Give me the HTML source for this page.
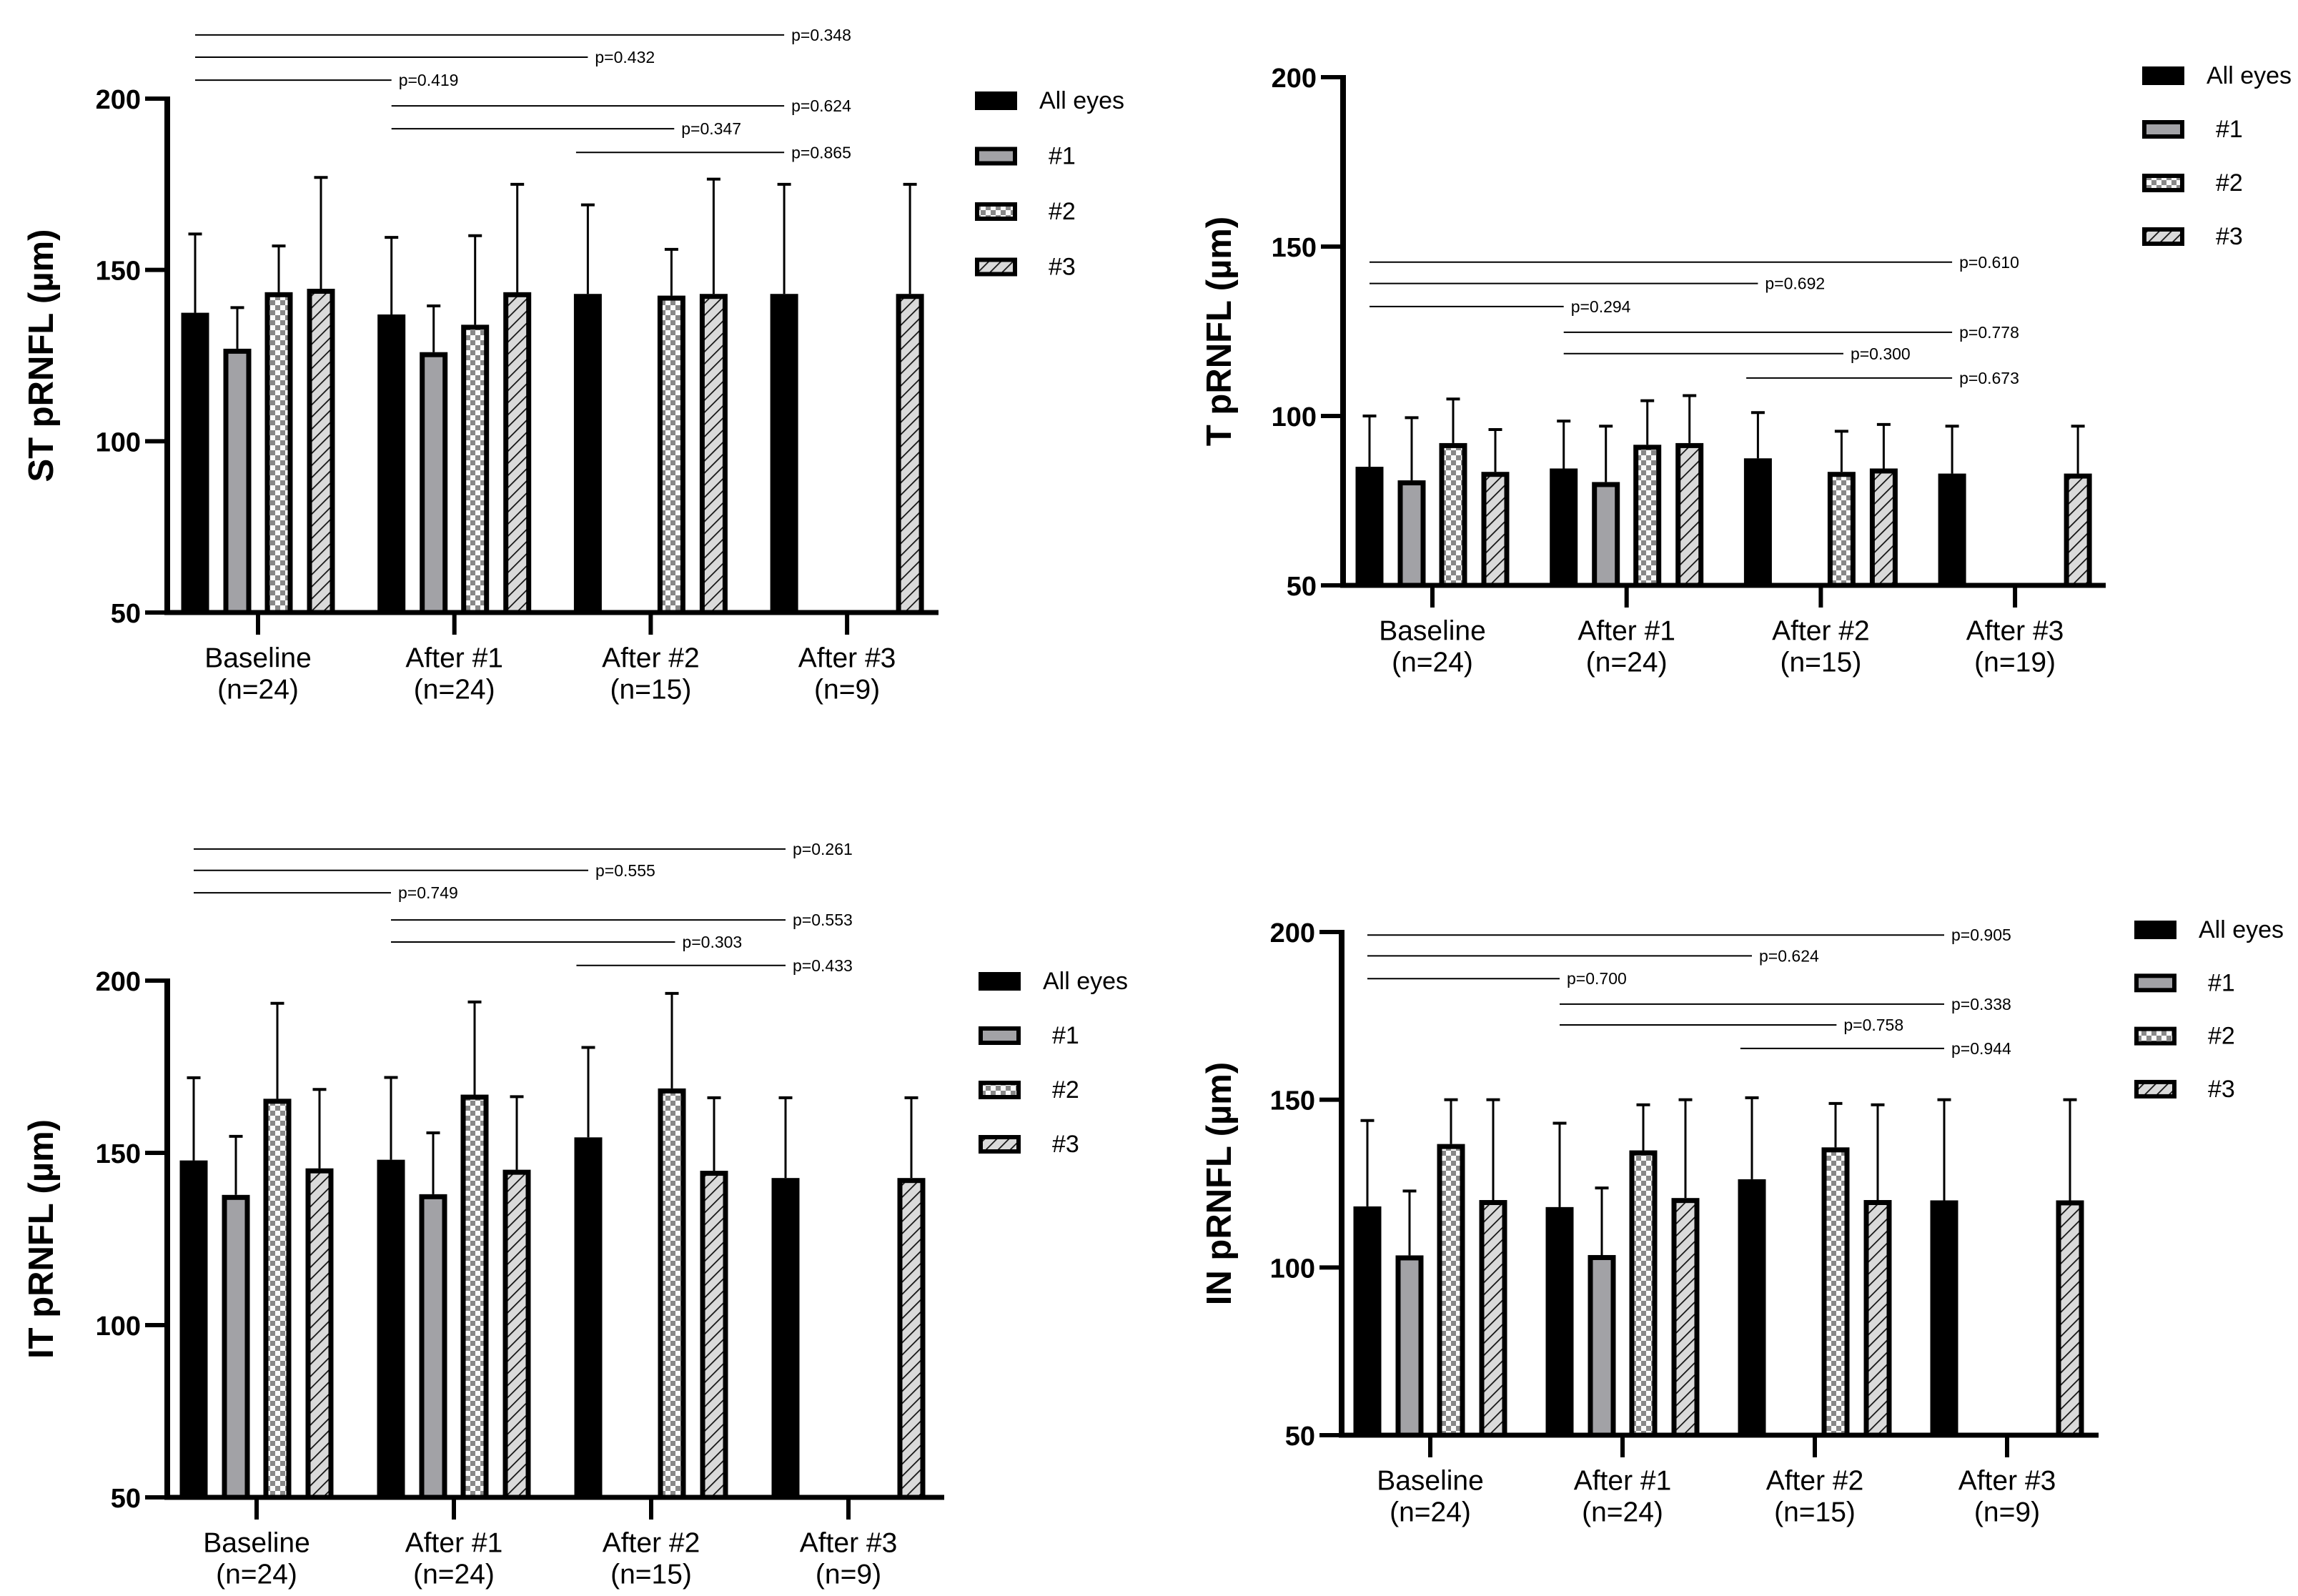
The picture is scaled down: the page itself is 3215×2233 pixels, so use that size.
<!DOCTYPE html>
<html><head><meta charset="utf-8"><style>
html,body{margin:0;padding:0;background:#fff;}
svg{display:block;font-family:"Liberation Sans",Arial,sans-serif;}
</style></head><body>
<svg id="chart" width="3215" height="2233" viewBox="0 0 3215 2233" xmlns="http://www.w3.org/2000/svg">
<defs>
<pattern id="checker" width="14" height="14" patternUnits="userSpaceOnUse">
<rect width="14" height="14" fill="#fafafa"/><rect width="7" height="7" fill="#888"/><rect x="7" y="7" width="7" height="7" fill="#888"/>
</pattern>
<pattern id="hatch" width="12" height="12" patternUnits="userSpaceOnUse" patternTransform="rotate(45)">
<rect width="12" height="12" fill="#dadada"/><line x1="0" y1="0" x2="0" y2="12" stroke="#111" stroke-width="3.5"/>
</pattern>
</defs>
<rect width="3215" height="2233" fill="#fff"/>
</svg>
<script>
const categories = ["Baseline","After #1","After #2","After #3"];
const seriesNames = ["All eyes","#1","#2","#3"];
const yTicks = [50,100,150,200];
// Means per group [All, #1, #2, #3]; null = no bar
const stMeans = [[137.5,127,143.5,144.5],[137,126,134,143.5],[143,null,142.5,143],[143,null,null,143]];
const stErrTop = [[160.5,139,157,177],[159.5,139.5,160,175],[169,null,156,176.5],[175,null,null,175]];
const stN = ["(n=24)","(n=24)","(n=15)","(n=9)"];
const stP = ["p=0.348","p=0.432","p=0.419","p=0.624","p=0.347","p=0.865"];
const stPY = [218.6,212.1,205.4,197.9,191.2,184.3];

const tMeans = [[85,81,92,83.5],[84.5,80.5,91.5,92],[87.5,null,83.5,84.5],[83,null,null,83]];
const tErrTop = [[100,99.5,105,96],[98.5,97,104.5,106],[101,null,95.5,97.5],[97,null,null,97]];
const tN = ["(n=24)","(n=24)","(n=15)","(n=19)"];
const tP = ["p=0.610","p=0.692","p=0.294","p=0.778","p=0.300","p=0.673"];
const tPY = [145.4,139.1,132.3,124.7,118.4,111.2];

const itMeans = [[147.8,137.8,165.7,145.5],[148,138,166.9,145.1],[154.5,null,168.7,144.8],[142.7,null,null,142.7]];
const itErrTop = [[171.8,154.8,193.4,168.4],[171.9,155.8,193.8,166.3],[180.6,null,196.3,166],[166,null,null,166]];
const itN = ["(n=24)","(n=24)","(n=15)","(n=9)"];
const itP = ["p=0.261","p=0.555","p=0.749","p=0.553","p=0.303","p=0.433"];
const itPY = [238.2,232,225.5,217.6,211.2,204.4];

const inMeans = [[118.2,103.6,136.8,120.1],[118,103.7,134.9,120.7],[126.3,null,135.8,120.1],[120,null,null,120]];
const inErrTop = [[143.8,122.8,150,150],[143,123.7,148.5,150],[150.6,null,148.9,148.5],[150,null,null,150]];
const inN = ["(n=24)","(n=24)","(n=15)","(n=9)"];
const inP = ["p=0.905","p=0.624","p=0.700","p=0.338","p=0.758","p=0.944"];
const inPY = [199.1,192.9,186.1,178.5,172.3,165.3];

// comparison spans in group units (0 = first "All eyes" bar)
const pSpans = [[0,3],[0,2],[0,1],[1,3],[1,2.44],[1.94,3]];

const NS = "http://www.w3.org/2000/svg";
const svg = document.getElementById("chart");
function mk(tag, attrs, parent){
  const e = document.createElementNS(NS, tag);
  for (const k in attrs) e.setAttribute(k, attrs[k]);
  (parent||svg).appendChild(e);
  return e;
}
const fills = ["#000","#a2a2a6","url(#checker)","url(#hatch)"];
const offs = [-88,-29,29,88];

function panel(id, title, L, means, errs, nLabels, pLabels, pY){
  const g = mk("g", {});
  
  
  const y = v => L.yBot - (v-50)*(L.yBot-L.yTop)/150;
  const xg = i => L.tick0 + i*L.step;
  const yt = mk("text", {x:L.labX, y:(L.yTop+L.yBot)/2, "font-size":49, "font-weight":"bold", "text-anchor":"middle", transform:`rotate(-90 ${L.labX} ${(L.yTop+L.yBot)/2})`, "dominant-baseline":"central"}, g);
  yt.textContent = title;
  
  
  means.forEach((row, gi) => {
    row.forEach((v, si) => {
      if (v === null) return;
      const cx = xg(gi) + offs[si];
      const top = y(v), bot = L.yBot;
      const e = errs[gi][si];
      const el = mk("line", {x1:cx, x2:cx, y1:y(e), y2:top, stroke:"#000", "stroke-width":3}, g);
      
      
      const cap = mk("line", {x1:cx-9.5, x2:cx+9.5, y1:y(e), y2:y(e), stroke:"#000", "stroke-width":4}, g);
      
      
      const r = si === 0
        ? mk("rect", {x:cx-19.5, y:top, width:39, height:bot-top, fill:"#000"}, g)
        : mk("rect", {x:cx-16, y:top+3.5, width:32, height:bot-top-3.5, fill:fills[si], stroke:"#000", "stroke-width":7}, g);
      
      
    });
  });
  const ya = mk("line", {x1:L.ax, x2:L.ax, y1:L.yTop-3, y2:L.yBot+3, stroke:"#000", "stroke-width":8}, g);
  
  
  const xa = mk("line", {x1:L.ax-4, x2:L.xEnd, y1:L.yBot, y2:L.yBot, stroke:"#000", "stroke-width":7}, g);
  
  
  yTicks.forEach(t => {
    const tm = mk("line", {x1:L.ax-31, x2:L.ax, y1:y(t), y2:y(t), stroke:"#000", "stroke-width":6}, g);
    
    
    const tl = mk("text", {x:L.ax-37, y:y(t)+2, "font-size":38, "font-weight":"bold", "text-anchor":"end", "dominant-baseline":"central"}, g);
    tl.textContent = t;
    
    
  });
  categories.forEach((c, i) => {
    const tm = mk("line", {x1:xg(i), x2:xg(i), y1:L.yBot, y2:L.yBot+31, stroke:"#000", "stroke-width":6}, g);
    
    
    const t1 = mk("text", {x:xg(i), y:L.yBot+64, "font-size":39, "text-anchor":"middle", "dominant-baseline":"central"}, g);
    t1.textContent = c;
    
    
    const t2 = mk("text", {x:xg(i), y:L.yBot+108, "font-size":39, "text-anchor":"middle", "dominant-baseline":"central"}, g);
    t2.textContent = nLabels[i];
    
    
  });
  const xs = u => L.tick0 - 88 + u*L.step;
  pSpans.forEach((sp, i) => {
    const yy = y(pY[i]);
    const pl = mk("line", {x1:xs(sp[0]), x2:xs(sp[1]), y1:yy, y2:yy, stroke:"#000", "stroke-width":2}, g);
    
    
    const pt = mk("text", {x:xs(sp[1])+10, y:yy, "font-size":23, "dominant-baseline":"central"}, g);
    pt.textContent = pLabels[i];
    
    
  });
  seriesNames.forEach((s, i) => {
    const ly = L.legY + i*L.legStep;
    const lb = i === 0
      ? mk("rect", {x:L.legX, y:ly-13, width:59, height:26, fill:"#000"}, g)
      : mk("rect", {x:L.legX+3, y:ly-10, width:53, height:20, fill:fills[i], stroke:"#000", "stroke-width":6}, g);
    
    
    const lt = mk("text", {x:L.legX + (i===0?90:103), y:ly, "font-size":34, "dominant-baseline":"central"}, g);
    lt.textContent = s;
    
    
  });
}

panel("st", "ST pRNFL (µm)", {ax:234, xEnd:1313, yTop:138, yBot:857, tick0:361, step:274.7, labX:58, legX:1364, legY:141, legStep:77.5}, stMeans, stErrTop, stN, stP, stPY);
panel("t", "T pRNFL (µm)", {ax:1879, xEnd:2946, yTop:108, yBot:819, tick0:2004, step:271.7, labX:1706, legX:2997, legY:106, legStep:75}, tMeans, tErrTop, tN, tP, tPY);
panel("it", "IT pRNFL (µm)", {ax:234, xEnd:1321, yTop:1372, yBot:2095, tick0:359, step:276, labX:58, legX:1369, legY:1373, legStep:76}, itMeans, itErrTop, itN, itP, itPY);
panel("in", "IN pRNFL (µm)", {ax:1877, xEnd:2936, yTop:1304, yBot:2008, tick0:2001, step:269, labX:1706, legX:2986, legY:1301, legStep:74.3}, inMeans, inErrTop, inN, inP, inPY);
</script>
</body></html>
